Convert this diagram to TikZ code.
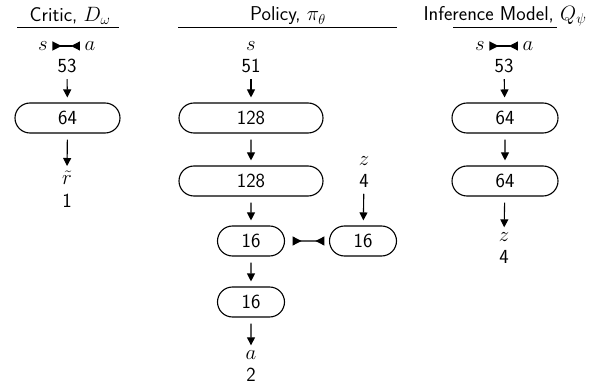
\documentclass[tikz,border=0pt]{standalone}
\usetikzlibrary{shapes.misc,arrows.meta}
\begin{document}
\begin{tikzpicture}[x=1pt,y=-1pt,
  font=\sffamily\fontsize{20}{23}\selectfont,
  layer/.style={draw,rounded rectangle,line width=1.1pt,minimum height=30pt,inner sep=0pt},
  lbl/.style={inner sep=0pt},
  flow/.style={line width=1.1pt,-{Triangle[length=8pt,width=8pt]},shorten <=6pt,shorten >=5pt},
  cat/.style={line width=1.1pt,{Triangle[reversed,length=9pt,width=9pt]}-{Triangle[reversed,length=9pt,width=9pt]},shorten <=4.5pt,shorten >=4.5pt},
  rulestyle/.style={line width=1pt}]
\useasboundingbox (0,0) rectangle (603,385);
% Critic
\node (ct) at (70,16) {Critic, $D_\omega$};
\coordinate (cr1) at (17,28); \coordinate (cr2) at (119,28);
\draw[rulestyle] (cr1) -- (cr2);
\node[lbl] (cs) at (43,46) {$s$};
\node[lbl] (ca) at (90,46) {$a$};
\draw[cat] (cs) -- (ca);
\node[lbl] (cn) at (67,66) {53};
\node[layer,minimum width=105pt] (c1) at (67.5,118) {64};
\node[lbl] (cr) at (67,178) {$\tilde r$};
\node[lbl] (cone) at (67,201) {1};
\draw[flow] (cn) -- (c1);
\draw[flow] (c1) -- (cr);
% Policy
\node (pt) at (288,16) {Policy, $\pi_\theta$};
\coordinate (pr1) at (178,28); \coordinate (pr2) at (397,28);
\draw[rulestyle] (pr1) -- (pr2);
\node[lbl] (ps) at (251,46) {$s$};
\node[lbl] (pn) at (251,66) {51};
\node[layer,minimum width=144pt] (p1) at (251,118) {128};
\node[layer,minimum width=144pt] (p2) at (251,181) {128};
\node[layer,minimum width=67pt] (p3) at (251,241) {16};
\node[layer,minimum width=67pt] (p4) at (251,302) {16};
\node[layer,minimum width=67pt] (q) at (363,241) {16};
\node[lbl] (pz) at (364,161) {$z$};
\node[lbl] (pzn) at (364,181) {4};
\node[lbl] (pa) at (251,355) {$a$};
\node[lbl] (pan) at (251,375) {2};
\draw[flow] (pn) -- (p1);
\draw[flow] (p1) -- (p2);
\draw[flow] (p2) -- (p3);
\draw[flow] (p3) -- (p4);
\draw[flow] (p4) -- (pa);
\draw[flow] (pzn) -- (q);
\draw[cat,shorten <=7.5pt,shorten >=4.5pt] (p3) -- (q);
% Inference
\node (it) at (505,16) {Inference Model, $Q_\psi$};
\coordinate (ir1) at (453,28); \coordinate (ir2) at (557,28);
\draw[rulestyle] (ir1) -- (ir2);
\node[lbl] (is) at (480,46) {$s$};
\node[lbl] (ia) at (528,46) {$a$};
\draw[cat] (is) -- (ia);
\node[lbl] (inn) at (504,66) {53};
\node[layer,minimum width=106pt] (i1) at (505,118) {64};
\node[layer,minimum width=106pt] (i2) at (505,181) {64};
\node[lbl] (iz) at (504,237) {$z$};
\node[lbl] (izn) at (504,257) {4};
\draw[flow] (inn) -- (i1);
\draw[flow] (i1) -- (i2);
\draw[flow] (i2) -- (iz);
\end{tikzpicture}
\end{document}
